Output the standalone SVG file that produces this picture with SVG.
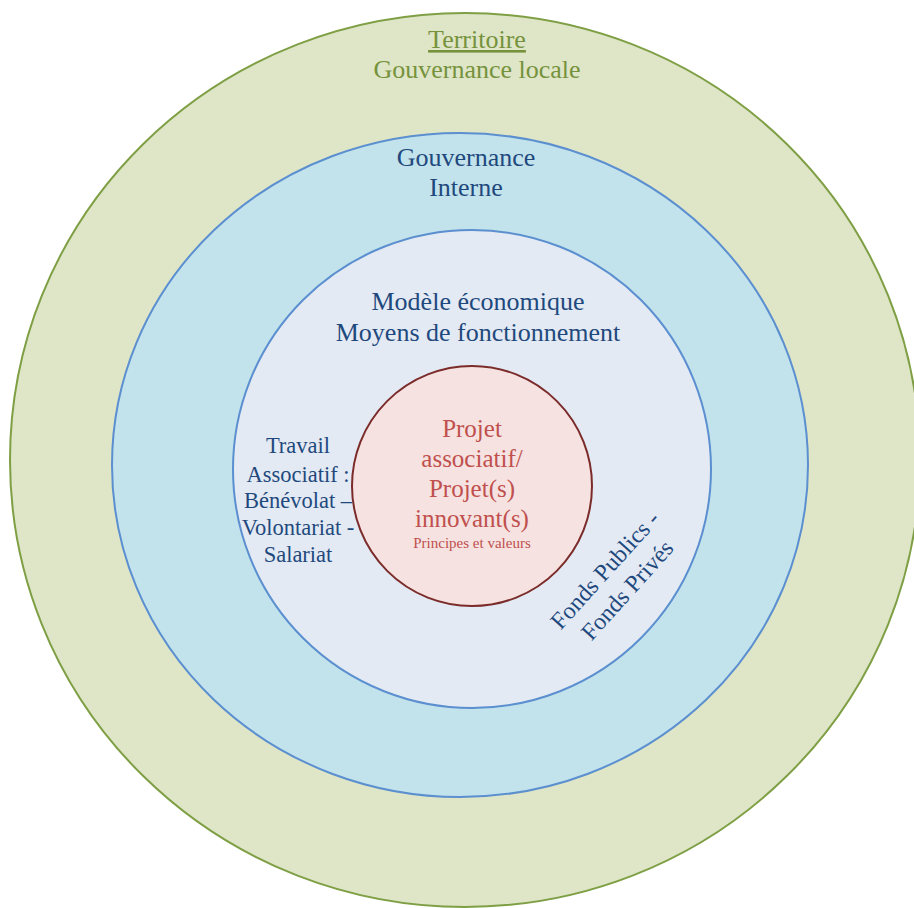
<svg xmlns="http://www.w3.org/2000/svg" width="914" height="908" viewBox="0 0 914 908">
<style>
text{font-family:"Liberation Serif","Times New Roman",serif;text-anchor:middle}
.g{fill:#76923c;font-size:26px}
.b{fill:#1f497d;font-size:26px}
.f{fill:#1f497d;font-size:24px}
.l{fill:#1f497d;font-size:22.5px}
.r{fill:#c0504d;font-size:25px}
.rs{fill:#c0504d;font-size:15px}
</style>
<rect width="914" height="908" fill="#ffffff"/>
<g id="territoire">
<ellipse cx="465" cy="460" rx="455" ry="447" fill="#dee6c7" stroke="#7f9f45" stroke-width="2"/>
<text class="g" x="477" y="48" text-decoration="underline">Territoire</text>
<text class="g" x="477" y="78">Gouvernance locale</text>
</g>
<g id="gouvernance">
<ellipse cx="460" cy="465" rx="348" ry="332" fill="#c2e3ec" stroke="#5b8fcf" stroke-width="2"/>
<text class="b" x="466" y="166">Gouvernance</text>
<text class="b" x="466" y="196">Interne</text>
</g>
<g id="modele">
<circle cx="472" cy="469" r="239" fill="#e3eaf4" stroke="#5b8fcf" stroke-width="2"/>
<text class="b" x="478" y="310">Modèle économique</text>
<text class="b" x="478" y="341">Moyens de fonctionnement</text>
<text class="l" x="298" y="453">Travail</text>
<text class="l" x="298" y="482">Associatif :</text>
<text class="l" x="298" y="508">Bénévolat –</text>
<text class="l" x="298" y="535">Volontariat -</text>
<text class="l" x="298" y="562">Salariat</text>
<g transform="translate(616 580) rotate(-48)">
<text class="f" x="0" y="-7">Fonds Publics -</text>
<text class="f" x="0" y="23">Fonds Privés</text>
</g>
</g>
<g id="projet">
<circle cx="472" cy="486" r="120" fill="#f5e2e1" stroke="#7b2c2a" stroke-width="2"/>
<text class="r" x="472" y="437">Projet</text>
<text class="r" x="472" y="467">associatif/</text>
<text class="r" x="472" y="497">Projet(s)</text>
<text class="r" x="472" y="527">innovant(s)</text>
<text class="rs" x="472" y="548">Principes et valeurs</text>
</g>
</svg>
